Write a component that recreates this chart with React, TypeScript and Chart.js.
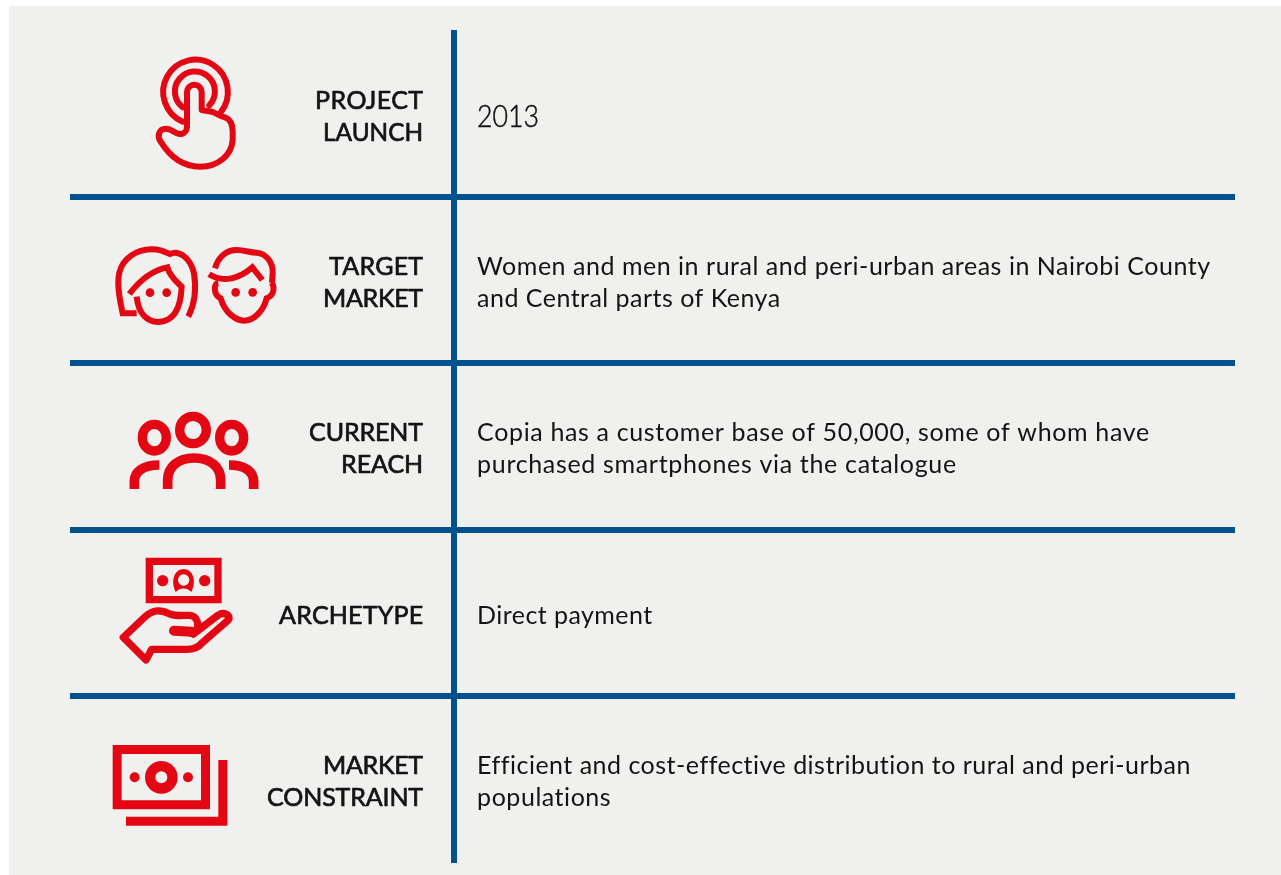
import React, { useEffect, useRef } from "react";
import { Chart, registerables } from "chart.js";

Chart.register(...registerables);

const rowLabels: string[][] = [
  ["PROJECT", "LAUNCH"],
  ["TARGET", "MARKET"],
  ["CURRENT", "REACH"],
  ["ARCHETYPE"],
  ["MARKET", "CONSTRAINT"],
];
const rowTexts: string[][] = [
  ["2013"],
  ["Women and men in rural and peri-urban areas in Nairobi County", "and Central parts of Kenya"],
  ["Copia has a customer base of 50,000, some of whom have", "purchased smartphones via the catalogue"],
  ["Direct payment"],
  ["Efficient and cost-effective distribution to rural and peri-urban", "populations"],
];
const rowRules = [1, 2, 3, 4];
const columnRules = [0.3297];

// layout: widths each line occupies in the reference, and per-row baseline nudges
const labelWidths = [[108, 100], [94, 100], [114, 82], [144], [100, 156]];
const textWidths = [[62], [733, 303], [672, 479], [175], [712, 134]];
const rowNudges = [1, 1, 0.4, 0, 0];

const RED = "#E30613";
const BLUE = "#00518C";
const INK = "#141414";
const FONT = "Lato";

type Icon = { ox: number; oy: number; join: CanvasLineJoin; strokes: [string, number][]; fills: string[] };
const c = (x: number, y: number, r: number) => `M ${x - r} ${y} a ${r} ${r} 0 1 0 ${2 * r} 0 a ${r} ${r} 0 1 0 ${-2 * r} 0 Z`;
const e = (x: number, y: number, rx: number, ry: number) => `M ${x - rx} ${y} a ${rx} ${ry} 0 1 0 ${2 * rx} 0 a ${rx} ${ry} 0 1 0 ${-2 * rx} 0 Z`;

const icons: Icon[] = [
  {
    ox: 90, oy: 30, join: "round",
    strokes: [
      ["M 278 275 A 97 97 0 1 1 392 247", 18],
      ["M 278 232 A 60 60 0 1 1 358 226", 18],
      ["M 228 296 C 245 296 255 312 270 312 C 282 312 291 302 291 290 L 291 186 A 22 22 0 0 1 335 186 L 335 240 L 365 245 C 375 246 385 258 405 262 C 420 268 428 285 428 305 L 428 330 C 425 375 385 410 330 410 C 280 410 240 380 212 335 C 200 318 207 296 228 296 Z", 18],
    ],
    fills: [],
  },
  {
    ox: 90, oy: 230, join: "miter",
    strokes: [
      ["M 140 250 L 98 250 C 80 170 80 130 100 100 C 125 65 170 50 215 62 L 240 72 C 265 60 300 80 312 130 C 320 180 315 220 295 260", 18],
      ["M 118 192 C 150 150 190 120 232 112 C 240 140 260 155 275 170 C 272 240 250 275 205 276 C 170 275 145 250 140 200", 18],
      ["M 375 115 C 385 80 410 60 440 60 C 465 60 480 68 500 68 C 530 70 550 100 548 130 L 546 158", 18],
      ["M 357 133 C 400 160 450 145 487 112 L 517 150", 18],
      ["M 385 158 C 370 160 370 195 392 205 C 405 250 440 272 462 272 C 490 272 520 245 530 205 C 555 195 555 165 542 158", 18],
    ],
    fills: [c(180, 188, 13), c(230, 188, 13), c(437, 187, 13), c(488, 187, 13)],
  },
  {
    ox: 90, oy: 400, join: "miter",
    strokes: [
      [e(309, 90, 40, 41), 28],
      [e(193, 113, 36, 40), 28],
      [e(425, 113, 36, 40), 28],
      ["M 233 267 L 233 240 C 233 200 265 174 312 174 C 360 174 392 200 392 240 L 392 267", 29],
      ["M 133 267 L 133 245 C 133 215 160 195 208 195", 29],
      ["M 491 267 L 491 245 C 491 215 465 195 417 195", 29],
    ],
    fills: [],
  },
  {
    ox: 90, oy: 400, join: "miter",
    strokes: [["M 178 484 H 384 V 599 H 178 Z", 22]],
    fills: [
      c(218, 542, 17),
      c(344, 542, 17),
      "M 257 576 C 240 540 255 507 281 507 C 307 507 322 540 304 576 C 290 562 272 562 257 576 Z " + c(281, 540, 17),
    ],
  },
  {
    ox: 90, oy: 400, join: "round",
    strokes: [
      ["M 310 702 L 385 645 C 400 635 425 645 415 660 L 335 730 C 325 742 310 748 290 748 L 185 748 L 168 780 L 100 712 L 160 655 C 190 625 215 630 240 642 C 260 650 280 645 300 646 C 330 650 330 695 305 700", 22],
      ["M 252 692 L 305 695", 30],
    ],
    fills: [],
  },
  {
    ox: 90, oy: 720, join: "miter",
    strokes: [
      ["M 81.5 88.5 H 346.5 V 254.5 H 81.5 Z", 27],
      ["M 108 303.5 H 398.5 V 120", 27],
      [c(214, 172, 33.5), 31],
    ],
    fills: [c(134, 172, 15), c(294, 172, 15)],
  },
];

const tablePlugin = {
  id: "table",
  afterDatasetsDraw(chart: any) {
    const { ctx, scales: { x, y } } = chart;
    const lineGap = 32;
    const drawLines = (
      lines: string[], widths: number[], row: number, left: (w: number) => number,
      font: string, weight: number, drop: number
    ) => {
      ctx.textAlign = "left";
      ctx.textBaseline = "alphabetic";
      ctx.font = font;
      ctx.fillStyle = INK;
      ctx.strokeStyle = INK;
      ctx.lineWidth = weight;
      ctx.lineJoin = "round";
      const center = y.getPixelForValue(row + 0.5);
      lines.forEach((t, i) => {
        const dy = (i - (lines.length - 1) / 2) * lineGap;
        (ctx as any).letterSpacing = "0px";
        const natural = ctx.measureText(t).width;
        const w = widths[i];
        const spacing = (w - natural) / Math.max(1, t.length - 1);
        const px = left(w);
        const py = center + drop + dy + rowNudges[row];
        if (spacing < -0.5) {
          ctx.fillText(t, px, py, w);
          if (weight) ctx.strokeText(t, px, py, w);
        } else {
          (ctx as any).letterSpacing = `${spacing}px`;
          ctx.fillText(t, px, py);
          if (weight) ctx.strokeText(t, px, py);
        }
      });
      (ctx as any).letterSpacing = "0px";
    };
    const rule = x.getPixelForValue(columnRules[0]);
    rowLabels.forEach((l, r) =>
      drawLines(l, labelWidths[r], r, (w) => rule - 31 - w, `400 25px ${FONT}`, 0.7, 10.5)
    );
    rowTexts.forEach((l, r) =>
      r === 0
        ? drawLines(l, textWidths[r], r, () => rule + 23, `300 31px ${FONT}`, 0.5, 12.5)
        : drawLines(l, textWidths[r], r, () => rule + 23, `400 25px ${FONT}`, 0, 10.5)
    );

    icons.forEach((ic) => {
      ctx.save();
      ctx.translate(ic.ox, ic.oy);
      ctx.scale(1 / 3, 1 / 3);
      ctx.strokeStyle = RED;
      ctx.fillStyle = RED;
      ctx.lineJoin = ic.join;
      ctx.lineCap = ic.join === "round" ? "round" : "butt";
      ic.strokes.forEach(([d, w]) => {
        ctx.lineWidth = w;
        ctx.stroke(new Path2D(d));
      });
      ic.fills.forEach((d) => ctx.fill(new Path2D(d), "evenodd"));
      ctx.restore();
    });
  },
};

export default function App() {
  const ref = useRef<HTMLCanvasElement>(null);
  useEffect(() => {
    const chart = new Chart(ref.current!, {
      type: "scatter",
      data: { datasets: [{ data: [], pointRadius: 0 }] },
      options: {
        animation: false,
        responsive: false,
        events: [],
        layout: { padding: { left: 70, right: 46, top: 30, bottom: 12 } },
        plugins: { legend: { display: false }, tooltip: { enabled: false } },
        scales: {
          x: {
            type: "linear",
            position: "top",
            min: 0,
            max: 1,
            afterBuildTicks: (s: any) => { s.ticks = columnRules.map((value) => ({ value })); },
            ticks: { display: false },
            border: { display: false },
            grid: { color: BLUE, lineWidth: 6, drawTicks: false },
          },
          y: {
            type: "linear",
            reverse: true,
            min: 0,
            max: rowLabels.length,
            afterBuildTicks: (s: any) => { s.ticks = rowRules.map((value) => ({ value })); },
            ticks: { display: false },
            border: { display: false },
            grid: { color: BLUE, lineWidth: 6, drawTicks: false },
          },
        },
      },
      plugins: [tablePlugin],
    } as any);
    return () => chart.destroy();
  }, []);
  return (
    <div style={{ position: "fixed", left: 0, top: 0, width: 1281, height: 875, background: "#fff", overflow: "hidden" }}>
      <div style={{ position: "absolute", left: 9, top: 6, right: 0, bottom: 0, background: "#F0F0EE" }} />
      <canvas ref={ref} width={1281} height={875} style={{ position: "absolute", left: 0, top: 0 }} />
    </div>
  );
}
